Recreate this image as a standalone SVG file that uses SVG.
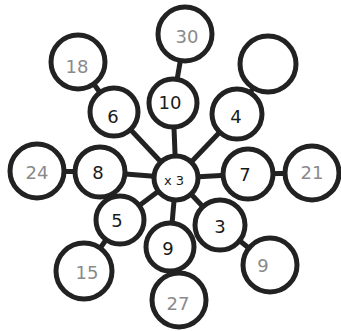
<svg xmlns="http://www.w3.org/2000/svg" width="341" height="331" viewBox="0 0 341 331">
<style>
.c{fill:#fff;stroke:#222;stroke-width:5}
.l{stroke:#222;stroke-width:5}
text{font-family:"DejaVu Sans","Liberation Sans",sans-serif;font-size:18px;text-anchor:middle;dominant-baseline:central}
.i{fill:#1a1a1a}
.o{fill:#8a8a8a}
</style>
<rect width="341" height="331" fill="#fff"/>
<g id="connectors">
<line class="l" x1="176" y1="178" x2="114" y2="112"/>
<line class="l" x1="176" y1="178" x2="173" y2="103"/>
<line class="l" x1="176" y1="178" x2="237" y2="114"/>
<line class="l" x1="176" y1="178" x2="100" y2="172"/>
<line class="l" x1="176" y1="178" x2="248" y2="174"/>
<line class="l" x1="176" y1="178" x2="120" y2="220"/>
<line class="l" x1="176" y1="178" x2="170" y2="247"/>
<line class="l" x1="176" y1="178" x2="220" y2="225"/>
<line class="l" x1="114" y1="112" x2="78" y2="62"/>
<line class="l" x1="173" y1="103" x2="185" y2="34"/>
<line class="l" x1="237" y1="114" x2="268" y2="64"/>
<line class="l" x1="100" y1="172" x2="37" y2="171"/>
<line class="l" x1="248" y1="174" x2="312" y2="173"/>
<line class="l" x1="120" y1="220" x2="84" y2="271"/>
<line class="l" x1="170" y1="247" x2="179" y2="300"/>
<line class="l" x1="220" y1="225" x2="270" y2="265"/>
</g>
<g id="n30"><circle class="c" cx="185" cy="34" r="27"/><text class="o" x="187" y="36">30</text></g>
<g id="n18"><circle class="c" cx="78" cy="62" r="27"/><text class="o" x="77" y="66">18</text></g>
<g id="nblank"><circle class="c" cx="268" cy="64" r="28"/></g>
<g id="n6"><circle class="c" cx="114" cy="112" r="24"/><text class="i" x="113" y="116">6</text></g>
<g id="n10"><circle class="c" cx="173" cy="103" r="24"/><text class="i" x="170" y="102">10</text></g>
<g id="n4"><circle class="c" cx="237" cy="114" r="25"/><text class="i" x="236" y="116">4</text></g>
<g id="n24"><circle class="c" cx="37" cy="171" r="27"/><text class="o" x="37" y="172">24</text></g>
<g id="n8"><circle class="c" cx="100" cy="172" r="25"/><text class="i" x="98" y="172">8</text></g>
<g id="center"><circle class="c" cx="176" cy="178" r="22"/><text class="i" x="174" y="180" style="font-size:13px">x 3</text></g>
<g id="n7"><circle class="c" cx="248" cy="174" r="25"/><text class="i" x="245" y="174">7</text></g>
<g id="n21"><circle class="c" cx="312" cy="173" r="27"/><text class="o" x="312" y="172">21</text></g>
<g id="n5"><circle class="c" cx="120" cy="220" r="24"/><text class="i" x="117" y="220">5</text></g>
<g id="n9a"><circle class="c" cx="170" cy="247" r="24"/><text class="i" x="168" y="248">9</text></g>
<g id="n3"><circle class="c" cx="220" cy="225" r="25"/><text class="i" x="220" y="226">3</text></g>
<g id="n9b"><circle class="c" cx="270" cy="265" r="27"/><text class="o" x="263" y="265">9</text></g>
<g id="n15"><circle class="c" cx="84" cy="271" r="28"/><text class="o" x="87" y="272">15</text></g>
<g id="n27"><circle class="c" cx="179" cy="300" r="27"/><text class="o" x="178" y="303">27</text></g>
</svg>
